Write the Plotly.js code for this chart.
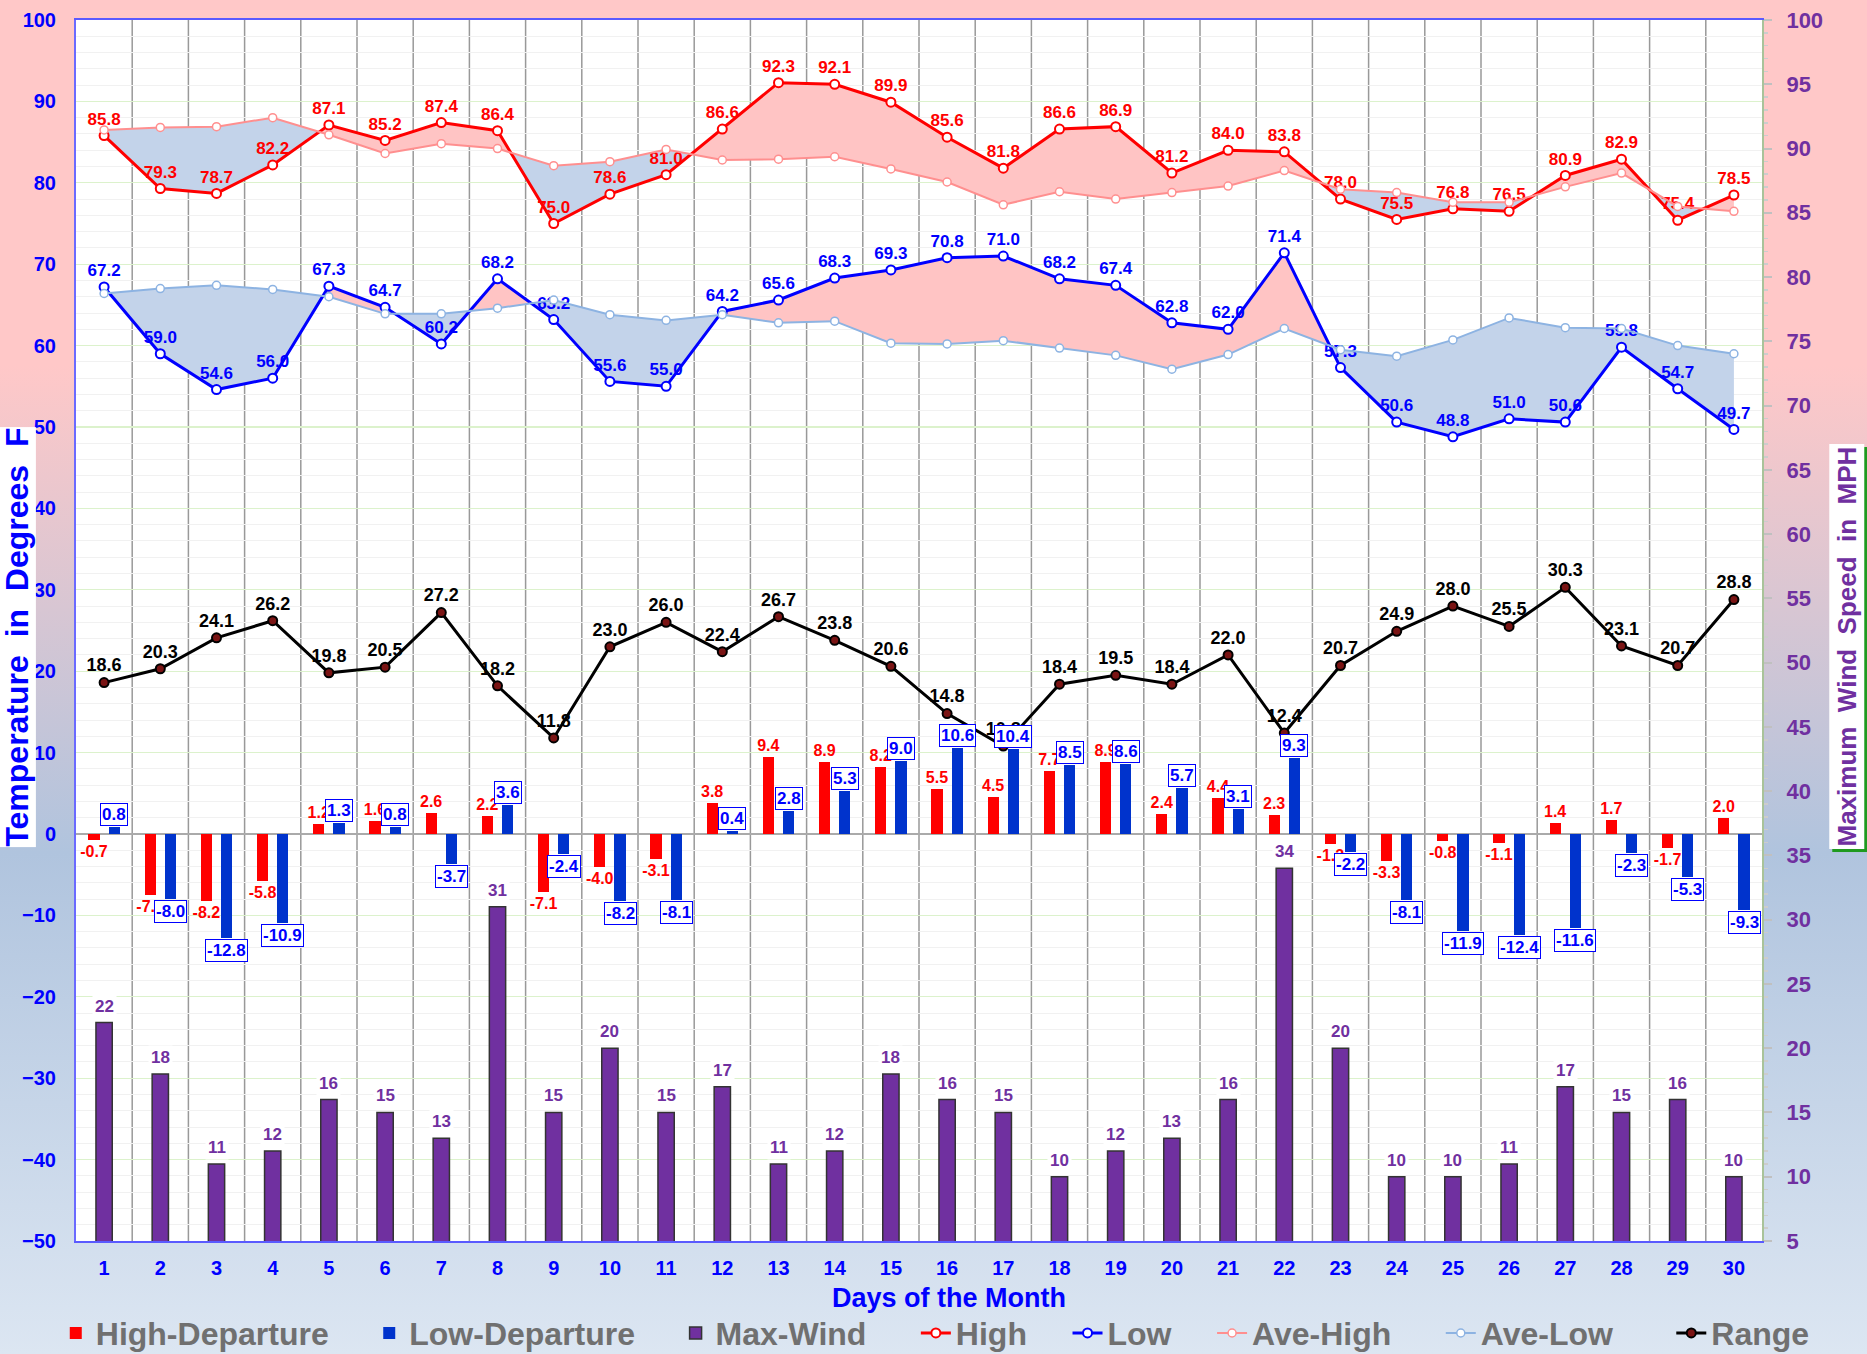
<!DOCTYPE html>
<html><head><meta charset="utf-8">
<script src="https://cdn.plot.ly/plotly-3.0.1.min.js"></script>
<style>
html,body{margin:0;padding:0;}
body{width:1867px;height:1354px;overflow:hidden;background:linear-gradient(to bottom,#ffc8c8 0%,#ffc8c8 27%,#b0c4de 63%,#dce6f2 100%);}
#chart{width:1867px;height:1354px;}
</style>
</head><body><div id="chart"></div>
<script>
const days = [1,2,3,4,5,6,7,8,9,10,11,12,13,14,15,16,17,18,19,20,21,22,23,24,25,26,27,28,29,30];
const high = [85.8,79.3,78.7,82.2,87.1,85.2,87.4,86.4,75.0,78.6,81.0,86.6,92.3,92.1,89.9,85.6,81.8,86.6,86.9,81.2,84.0,83.8,78.0,75.5,76.8,76.5,80.9,82.9,75.4,78.5];
const low = [67.2,59.0,54.6,56.0,67.3,64.7,60.2,68.2,63.2,55.6,55.0,64.2,65.6,68.3,69.3,70.8,71.0,68.2,67.4,62.8,62.0,71.4,57.3,50.6,48.8,51.0,50.6,59.8,54.7,49.7];
const aveHigh = [86.5,86.8,86.9,88.0,85.9,83.6,84.8,84.2,82.1,82.6,84.1,82.8,82.9,83.2,81.7,80.1,77.3,78.9,78.0,78.8,79.6,81.5,79.2,78.8,77.6,77.6,79.5,81.2,77.1,76.5];
const aveLow = [66.4,67.0,67.4,66.9,66.0,63.9,63.9,64.6,65.6,63.8,63.1,63.8,62.8,63.0,60.3,60.2,60.6,59.7,58.8,57.1,58.9,62.1,59.5,58.7,60.7,63.4,62.2,62.1,60.0,59.0];
const highDep = [-0.7,-7.5,-8.2,-5.8,1.2,1.6,2.6,2.2,-7.1,-4.0,-3.1,3.8,9.4,8.9,8.2,5.5,4.5,7.7,8.9,2.4,4.4,2.3,-1.2,-3.3,-0.8,-1.1,1.4,1.7,-1.7,2.0];
const lowDep = [0.8,-8.0,-12.8,-10.9,1.3,0.8,-3.7,3.6,-2.4,-8.2,-8.1,0.4,2.8,5.3,9.0,10.6,10.4,8.5,8.6,5.7,3.1,9.3,-2.2,-8.1,-11.9,-12.4,-11.6,-2.3,-5.3,-9.3];
const rangeT = [18.6,20.3,24.1,26.2,19.8,20.5,27.2,18.2,11.8,23.0,26.0,22.4,26.7,23.8,20.6,14.8,10.8,18.4,19.5,18.4,22.0,12.4,20.7,24.9,28.0,25.5,30.3,23.1,20.7,28.8];
const wind = [22,18,11,12,16,15,13,31,15,20,15,17,11,12,18,16,15,10,12,13,16,34,20,10,10,11,17,15,16,10];
const seriesNames = ['High-Departure','Low-Departure','Max-Wind','High','Low','Ave-High','Ave-Low','Range'];

const FONT = 'Liberation Sans, Arial, Helvetica, sans-serif';
const PINK = '#ffc4c4', BLUEFILL = '#c3d3ea';
const sp = n => '\u00a0'.repeat(n);
const legendPad = [4, 4, 5, 4, 4, 5, 6, 0];

// regions between an actual series and its average, split where the two lines cross
function regions(x, a, b) {
  const pos = {x: [], y: []}, neg = {x: [], y: []};
  let runA = [], runB = [], sign = 0;
  function flush() {
    if (runA.length > 1 && sign !== 0) {
      const t = sign > 0 ? pos : neg;
      const pts = runA.concat(runB.slice().reverse());
      pts.forEach(p => { t.x.push(p[0]); t.y.push(p[1]); });
      t.x.push(pts[0][0]); t.y.push(pts[0][1]);
      t.x.push(null); t.y.push(null);
    }
    runA = []; runB = [];
  }
  for (let i = 0; i < x.length; i++) {
    const d = a[i] - b[i];
    const s = d > 0 ? 1 : (d < 0 ? -1 : 0);
    if (i > 0) {
      const dp = a[i-1] - b[i-1];
      if (dp * d < 0) {
        const t = dp / (dp - d);
        const xc = x[i-1] + t * (x[i] - x[i-1]);
        const yc = a[i-1] + t * (a[i] - a[i-1]);
        runA.push([xc, yc]); runB.push([xc, yc]);
        flush();
        sign = s;
        runA.push([xc, yc]); runB.push([xc, yc]);
      }
    }
    if (sign === 0) sign = s;
    runA.push([x[i], a[i]]); runB.push([x[i], b[i]]);
  }
  flush();
  return {pos, neg};
}
const rh = regions(days, high, aveHigh);
const rl = regions(days, low, aveLow);
function fillTrace(r, color) {
  return {x: r.x, y: r.y, type: 'scatter', mode: 'lines', fill: 'toself', fillcolor: color,
    line: {width: 0, color: color}, hoverinfo: 'skip', showlegend: false, connectgaps: false};
}

const labelFont = (c, s) => ({family: FONT, size: s || 17, color: c, weight: 'bold'});
const nm = i => seriesNames[i] + sp(legendPad[i]);

const traces = [
  fillTrace(rh.pos, PINK), fillTrace(rh.neg, BLUEFILL),
  fillTrace(rl.pos, PINK), fillTrace(rl.neg, BLUEFILL),
  {name: nm(0), type: 'bar', x: days, y: highDep, width: 0.2, offset: -0.28,
    marker: {color: '#ff0000', line: {width: 0}}, text: highDep.map(v => v.toFixed(1)),
    textposition: 'outside', textangle: 0, constraintext: 'none', cliponaxis: false,
    textfont: {family: FONT, size: 16, color: '#ff0000', weight: 'bold'}},
  {name: nm(1), type: 'bar', x: days, y: lowDep, width: 0.2, offset: 0.08,
    marker: {color: '#0033cc', line: {width: 0}}},
  {name: nm(2), type: 'bar', x: days, y: wind, yaxis: 'y2', width: 0.29, offset: -0.145,
    marker: {color: '#7030a0', line: {width: 1.5, color: '#333333'}}},
  {name: nm(3), type: 'scatter', mode: 'lines+markers+text', x: days, y: high,
    line: {color: '#ff0000', width: 3}, marker: {symbol: 'circle', size: 9, color: '#ffffff', line: {color: '#ff0000', width: 2}},
    text: high.map(v => v.toFixed(1)), textposition: 'top center', textfont: labelFont('#ff0000'), cliponaxis: false},
  {name: nm(4), type: 'scatter', mode: 'lines+markers+text', x: days, y: low,
    line: {color: '#0000ff', width: 3}, marker: {symbol: 'circle', size: 9, color: '#ffffff', line: {color: '#0000ff', width: 2}},
    text: low.map(v => v.toFixed(1)), textposition: 'top center', textfont: labelFont('#0000ff'), cliponaxis: false},
  {name: nm(5), type: 'scatter', mode: 'lines+markers', x: days, y: aveHigh,
    line: {color: '#ff8f8f', width: 2}, marker: {symbol: 'circle', size: 8, color: '#ffffff', line: {color: '#ff8f8f', width: 1.5}}},
  {name: nm(6), type: 'scatter', mode: 'lines+markers', x: days, y: aveLow,
    line: {color: '#8db3e2', width: 2}, marker: {symbol: 'circle', size: 8, color: '#ffffff', line: {color: '#8db3e2', width: 1.5}}},
  {name: nm(7), type: 'scatter', mode: 'lines+markers+text', x: days, y: rangeT,
    line: {color: '#000000', width: 3}, marker: {symbol: 'circle', size: 9, color: '#7a1414', line: {color: '#000000', width: 2}},
    text: rangeT.map(v => v.toFixed(1)), textposition: 'top center', textfont: labelFont('#000000', 18), cliponaxis: false}
];

const annotations = [];
lowDep.forEach((v, i) => {
  annotations.push({x: days[i] + 0.18, y: v, xref: 'x', yref: 'y', text: v.toFixed(1), showarrow: false,
    yanchor: v >= 0 ? 'bottom' : 'top', yshift: v >= 0 ? 1 : -1,
    font: {family: FONT, size: 17, color: '#0000ff', weight: 'bold'},
    bgcolor: '#ffffff', bordercolor: '#0000ff', borderwidth: 1, borderpad: 1});
});
wind.forEach((v, i) => {
  annotations.push({x: days[i], y: v, xref: 'x', yref: 'y2', text: String(v), showarrow: false,
    yanchor: 'bottom', yshift: 4,
    font: {family: FONT, size: 17, color: '#7030a0', weight: 'bold'},
    bgcolor: '#ffffff', borderpad: 2});
});
annotations.push({xref: 'paper', yref: 'paper', x: -0.035, y: 0.495, text: 'Temperature\u00a0 in\u00a0 Degrees\u00a0 F',
  textangle: -90, showarrow: false, xanchor: 'center', yanchor: 'middle',
  font: {family: FONT, size: 32, color: '#0000ff', weight: 'bold'}, bgcolor: '#ffffff', borderpad: 0});
annotations.push({xref: 'paper', yref: 'paper', x: 1.0505, y: 0.487, xshift: 3, yshift: -3, text: 'Maximum\u00a0 Wind\u00a0 Speed\u00a0 in\u00a0 MPH',
  textangle: -90, showarrow: false, xanchor: 'center', yanchor: 'middle',
  font: {family: FONT, size: 26, color: '#1f9a1f', weight: 'bold'}, bgcolor: '#1f9a1f', borderpad: 2});
annotations.push({xref: 'paper', yref: 'paper', x: 1.0505, y: 0.487, text: 'Maximum\u00a0 Wind\u00a0 Speed\u00a0 in\u00a0 MPH',
  textangle: -90, showarrow: false, xanchor: 'center', yanchor: 'middle',
  font: {family: FONT, size: 26, color: '#7030a0', weight: 'bold'}, bgcolor: '#ffffff', borderpad: 2});
annotations.push({xref: 'paper', yref: 'paper', x: 0.518, y: -0.0467, text: 'Days of the Month',
  showarrow: false, xanchor: 'center', yanchor: 'middle',
  font: {family: FONT, size: 27, color: '#0000ff', weight: 'bold'}});

const shapes = days.slice(0, -1).map(d => ({type: 'line', xref: 'x', yref: 'paper', x0: d + 0.5, x1: d + 0.5, y0: 0, y1: 1,
  line: {color: '#999999', width: 1.5}, layer: 'below'}));

const layout = {
  width: 1867, height: 1354,
  margin: {l: 76, r: 105, t: 20, b: 113, autoexpand: false},
  paper_bgcolor: 'rgba(0,0,0,0)', plot_bgcolor: '#ffffff',
  barmode: 'overlay', bargap: 0,
  font: {family: FONT},
  xaxis: {range: [0.5, 30.5], tickmode: 'array', tickvals: days, ticktext: days.map(String), ticks: '',
    showgrid: false, zeroline: false, showline: true, mirror: true, linecolor: '#5a5aff', linewidth: 2,
    tickfont: {family: FONT, size: 20, color: '#0000ff', weight: 'bold'}, ticklabelstandoff: 8},
  yaxis: {range: [-50, 100], dtick: 10, ticks: '', showgrid: true, gridcolor: '#dcf2cc', gridwidth: 1.2,
    minor: {dtick: 2, showgrid: true, gridcolor: '#f1f1f1', gridwidth: 1},
    zeroline: true, zerolinecolor: '#aaaaaa', zerolinewidth: 2,
    showline: true, linecolor: '#6a6aff', linewidth: 2,
    tickfont: {family: FONT, size: 20, color: '#0000ff', weight: 'bold'}, ticklabelstandoff: 14},
  yaxis2: {overlaying: 'y', side: 'right', range: [5, 100], dtick: 5, showgrid: false, zeroline: false,
    ticks: 'outside', ticklen: 8, tickwidth: 2, tickcolor: '#c0c0c0',
    minor: {dtick: 1, ticks: 'outside', ticklen: 4, tickwidth: 1.5, tickcolor: '#cccccc', showgrid: false},
    showline: true, linecolor: '#a9c39a', linewidth: 2,
    tickfont: {family: FONT, size: 22, color: '#7030a0', weight: 'bold'}, ticklabelstandoff: 10},
  legend: {orientation: 'h', x: -0.012, xanchor: 'left', y: -0.0755, yanchor: 'middle', bgcolor: 'rgba(0,0,0,0)',
    font: {family: FONT, size: 32, color: '#707070', weight: 'bold'}, itemwidth: 30, traceorder: 'normal'},
  annotations: annotations,
  shapes: shapes,
  showlegend: true
};

Plotly.newPlot('chart', traces, layout, {displayModeBar: false, staticPlot: true});
</script>
</body></html>
